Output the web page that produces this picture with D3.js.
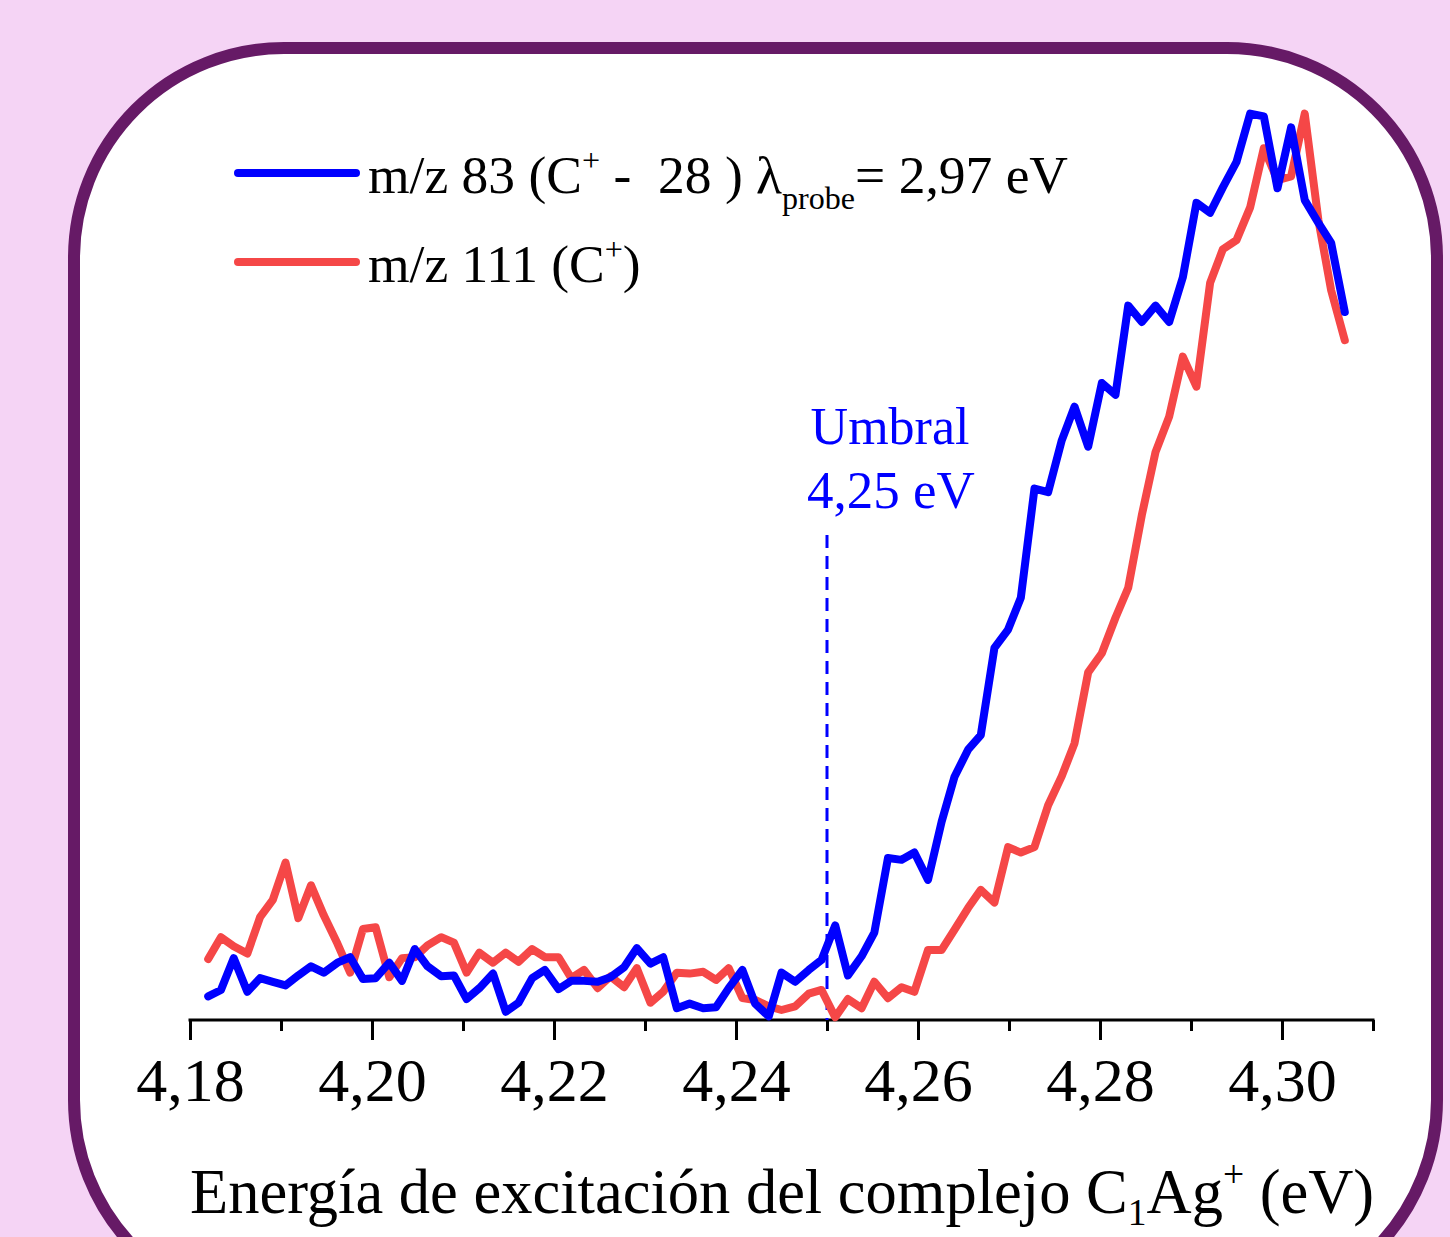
<!DOCTYPE html>
<html lang="es">
<head>
    <meta charset="UTF-8">
    <title>Umbral C1Ag+</title>
    <script src="https://d3js.org/d3.v7.min.js"></script>
    <style>
        body { margin: 0; background: #f5d4f5; }
        svg text { font-family: "Liberation Serif", "Times New Roman", serif; white-space: pre; }
    </style>
</head>
<body>
    <svg id="chart" width="1450" height="1237"></svg>
    <script>
        // DATA, energy in eV, signal in arbitrary units
        const energy = [4.1820, 4.1834, 4.1848, 4.1863, 4.1877, 4.1891, 4.1905, 4.1919, 4.1933, 4.1947,
            4.1962, 4.1976, 4.1990, 4.2004, 4.2019, 4.2033, 4.2047, 4.2061, 4.2076, 4.2090,
            4.2104, 4.2118, 4.2133, 4.2147, 4.2161, 4.2176, 4.2190, 4.2205, 4.2219, 4.2233,
            4.2248, 4.2262, 4.2277, 4.2291, 4.2306, 4.2320, 4.2335, 4.2349, 4.2364, 4.2378,
            4.2392, 4.2407, 4.2421, 4.2436, 4.2450, 4.2465, 4.2480, 4.2494, 4.2509, 4.2523,
            4.2538, 4.2552, 4.2567, 4.2582, 4.2596, 4.2611, 4.2626, 4.2640, 4.2655, 4.2669,
            4.2684, 4.2699, 4.2713, 4.2728, 4.2743, 4.2758, 4.2772, 4.2787, 4.2802, 4.2817,
            4.2831, 4.2846, 4.2861, 4.2876, 4.2891, 4.2906, 4.2921, 4.2935, 4.2950, 4.2965,
            4.2980, 4.2995, 4.3010, 4.3025, 4.3040, 4.3054, 4.3069];

        // m/z 83 (blue)
        const signal83 = [2.6, 3.3, 6.8, 3.1, 4.6, 4.2, 3.8, 4.9, 5.9, 5.2,
            6.3, 6.9, 4.5, 4.6, 6.3, 4.3, 7.8, 5.9, 4.8, 4.9,
            2.3, 3.5, 5.1, 0.9, 1.9, 4.6, 5.5, 3.4, 4.3, 4.3,
            4.2, 4.7, 5.8, 7.9, 6.2, 6.9, 1.3, 1.8, 1.3, 1.4,
            3.5, 5.5, 1.8, 0.4, 5.2, 4.2, 5.5, 6.6, 10.4, 4.9,
            7.0, 9.6, 17.8, 17.6, 18.4, 15.4, 21.8, 26.7, 29.7, 31.3,
            40.9, 42.9, 46.4, 58.4, 58.0, 63.7, 67.4, 63.0, 70.0, 68.7,
            78.5, 76.7, 78.5, 76.7, 81.6, 89.8, 88.7, 91.5, 94.3, 99.6,
            99.3, 91.4, 98.1, 90.1, 87.6, 85.4, 77.8];

        // m/z 111 (red)
        const signal111 = [6.7, 9.1, 8.1, 7.3, 11.3, 13.2, 17.3, 11.2, 14.8, 11.5,
            8.4, 5.2, 10.0, 10.2, 4.7, 6.8, 6.9, 8.2, 9.1, 8.5,
            5.2, 7.4, 6.3, 7.4, 6.4, 7.8, 6.9, 6.9, 4.6, 5.5,
            3.5, 4.8, 3.6, 5.7, 1.9, 3.1, 5.2, 5.1, 5.3, 4.4,
            5.7, 2.4, 2.2, 1.5, 1.1, 1.5, 2.9, 3.3, 0.3, 2.3,
            1.3, 4.2, 2.4, 3.6, 3.1, 7.7, 7.7, 9.9, 12.3, 14.3,
            12.9, 19.0, 18.4, 19.0, 23.6, 26.8, 30.4, 38.2, 40.3, 44.2,
            47.5, 55.5, 62.4, 66.3, 72.9, 69.6, 81.0, 84.7, 85.7, 89.3,
            95.8, 92.3, 92.7, 99.6, 87.9, 80.2, 74.7];

        const majorTicks = [4.18, 4.20, 4.22, 4.24, 4.26, 4.28, 4.30];
        const minorTicks = [4.19, 4.21, 4.23, 4.25, 4.27, 4.29, 4.31];
        const threshold = 4.25;

        const blue = "#0000ff";
        const red = "#f54747";

        var svg = d3.select("#chart");

        // FRAME
        svg.append("rect")
            .attr("width", 1450).attr("height", 1237)
            .attr("fill", "#f5d4f5");
        svg.append("rect")
            .attr("x", 74).attr("y", 48)
            .attr("width", 1363).attr("height", 1262)
            .attr("rx", 210).attr("ry", 210)
            .attr("fill", "white")
            .attr("stroke", "#661a66")
            .attr("stroke-width", 12);

        // SCALES
        var x = d3.scaleLinear().domain([4.18, 4.31]).range([190, 1373]);
        var y = d3.scaleLinear().domain([0, 100]).range([1020, 110]);

        // X AXIS
        var fmt = function (d) { return d3.format(".2f")(d).replace(".", ","); };
        var axis = svg.append("g").attr("transform", "translate(0,1020)");
        axis.call(d3.axisBottom(x).tickValues(majorTicks).tickSize(20).tickSizeOuter(0).tickFormat(fmt));
        axis.select(".domain").remove();
        axis.selectAll(".tick line").attr("stroke", "black").attr("stroke-width", 3);
        axis.selectAll(".tick text")
            .attr("y", 81).attr("dy", null)
            .attr("font-size", 62)
            .attr("fill", "black")
            .style("font-family", "'Liberation Serif', serif");

        var minor = svg.append("g").attr("transform", "translate(0,1020)");
        minor.call(d3.axisBottom(x).tickValues(minorTicks).tickSize(11).tickSizeOuter(0).tickFormat(""));
        minor.select(".domain").remove();
        minor.selectAll(".tick line").attr("stroke", "black").attr("stroke-width", 3);

        svg.append("line")
            .attr("x1", x(4.18) - 1.5).attr("x2", x(4.31) + 1.5)
            .attr("y1", 1020).attr("y2", 1020)
            .attr("stroke", "black").attr("stroke-width", 3);

        // TEXT WITH SUB/SUPERSCRIPTS
        function richText(px, py, size, color, parts, subShift) {
            var t = svg.append("text")
                .attr("x", px).attr("y", py)
                .attr("font-size", size)
                .attr("fill", color);
            var shift = 0;
            parts.forEach(function (p) {
                var s = 0;
                if (p.sup) { s = -size * 0.42; }
                if (p.sub) { s = subShift; }
                t.append("tspan")
                    .attr("dy", s - shift)
                    .attr("font-size", (p.sup || p.sub) ? size * 0.6 : size)
                    .text(p.t);
                shift = s;
            });
            return t;
        }

        richText(190, 1213, 62.5, "black", [
            { t: "Energía de excitación del complejo C" }, { t: "1", sub: true },
            { t: "Ag" }, { t: "+", sup: true }, { t: " (eV)" }], 12);

        // THRESHOLD
        svg.append("line")
            .attr("x1", x(threshold)).attr("x2", x(threshold))
            .attr("y1", 535).attr("y2", 1020)
            .attr("stroke", blue).attr("stroke-width", 3)
            .attr("stroke-dasharray", "13,8");

        svg.append("text").attr("x", 890).attr("y", 444)
            .attr("text-anchor", "middle").attr("font-size", 52).attr("fill", blue)
            .text("Umbral");
        svg.append("text").attr("x", 891).attr("y", 508)
            .attr("text-anchor", "middle").attr("font-size", 53).attr("fill", blue)
            .text("4,25 eV");

        // LINES
        var line = d3.line()
            .x(function (d, i) { return x(energy[i]); })
            .y(function (d) { return y(d); });

        svg.append("path").datum(signal111)
            .attr("d", line)
            .attr("fill", "none").attr("stroke", red)
            .attr("stroke-width", 8).attr("stroke-linejoin", "round").attr("stroke-linecap", "round");

        svg.append("path").datum(signal83)
            .attr("d", line)
            .attr("fill", "none").attr("stroke", blue)
            .attr("stroke-width", 8).attr("stroke-linejoin", "round").attr("stroke-linecap", "round");

        // LEGEND
        var legend = [
            { color: blue, y: 173, parts: [{ t: "m/z 83 (C" }, { t: "+", sup: true }, { t: " -  28 ) λ" },
                { t: "probe", sub: true }, { t: "= 2,97 eV" }] },
            { color: red, y: 262, parts: [{ t: "m/z 111 (C" }, { t: "+", sup: true }, { t: ")" }] }
        ];
        legend.forEach(function (l) {
            svg.append("line")
                .attr("x1", 238).attr("x2", 356)
                .attr("y1", l.y).attr("y2", l.y)
                .attr("stroke", l.color).attr("stroke-width", 8).attr("stroke-linecap", "round");
            richText(368, l.y + 20, 53.5, "black", l.parts, 16);
        });
    </script>
</body>
</html>
